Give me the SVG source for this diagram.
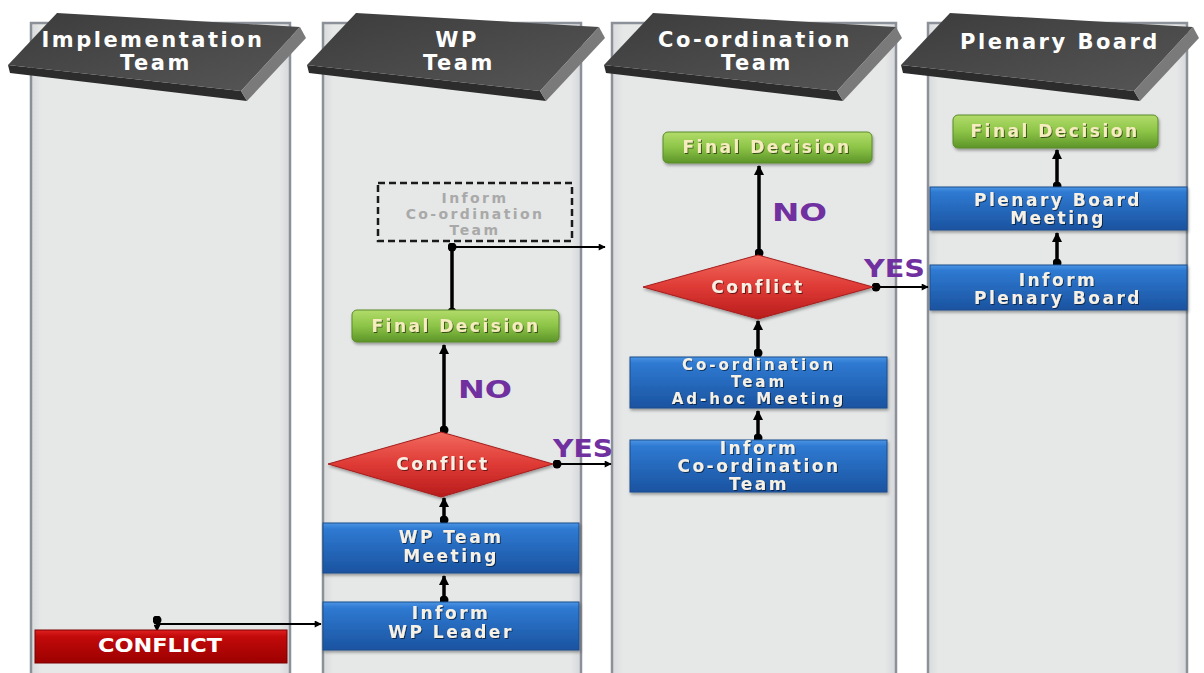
<svg xmlns="http://www.w3.org/2000/svg" width="1204" height="673" viewBox="0 0 1204 673">
<defs>
<linearGradient id="blueG" x1="0" y1="0" x2="0" y2="1">
<stop offset="0" stop-color="#4b95e4"/><stop offset="0.12" stop-color="#2f7ad2"/><stop offset="1" stop-color="#1a53a0"/>
</linearGradient>
<linearGradient id="greenG" x1="0" y1="0" x2="0" y2="1">
<stop offset="0" stop-color="#b2dc6a"/><stop offset="0.5" stop-color="#8cc447"/><stop offset="1" stop-color="#5d9529"/>
</linearGradient>
<linearGradient id="redG" x1="0" y1="0" x2="0" y2="1">
<stop offset="0" stop-color="#f26a5e"/><stop offset="0.5" stop-color="#de3a35"/><stop offset="1" stop-color="#b81c1c"/>
</linearGradient>
<linearGradient id="darkRedG" x1="0" y1="0" x2="0" y2="1">
<stop offset="0" stop-color="#e02020"/><stop offset="0.2" stop-color="#c20a0a"/><stop offset="1" stop-color="#9c0000"/>
</linearGradient>
<linearGradient id="hdrG" x1="0" y1="0" x2="1" y2="1">
<stop offset="0" stop-color="#3c3c3c"/><stop offset="1" stop-color="#565656"/>
</linearGradient>
<linearGradient id="laneG" x1="0" y1="0" x2="1" y2="0">
<stop offset="0" stop-color="#d9dadc"/><stop offset="0.04" stop-color="#e6e7e7"/><stop offset="0.96" stop-color="#e6e7e7"/><stop offset="1" stop-color="#d6d7da"/>
</linearGradient>
<filter id="sh" x="-10%" y="-20%" width="120%" height="150%">
<feDropShadow dx="1" dy="2" stdDeviation="1.5" flood-color="#000" flood-opacity="0.35"/>
</filter>
<filter id="tsh" x="-10%" y="-30%" width="120%" height="160%">
<feDropShadow dx="1" dy="1" stdDeviation="0.6" flood-color="#000" flood-opacity="0.55"/>
</filter>
<marker id="ah" viewBox="0 0 10 10" refX="9" refY="5" markerWidth="10" markerHeight="10" markerUnits="userSpaceOnUse" orient="auto">
<path d="M0,0 L10,5 L0,10 z" fill="#000"/>
</marker>
<marker id="ahs" viewBox="0 0 10 10" refX="9" refY="5" markerWidth="8" markerHeight="7" markerUnits="userSpaceOnUse" orient="auto">
<path d="M0,0 L10,5 L0,10 z" fill="#000"/>
</marker>
<marker id="dot" viewBox="0 0 10 10" refX="5" refY="5" markerWidth="9" markerHeight="9" markerUnits="userSpaceOnUse">
<circle cx="5" cy="5" r="5" fill="#000"/>
</marker>
</defs>
<style>
.lane{fill:url(#laneG);stroke:#8c9098;stroke-width:2.5}
.top{fill:url(#hdrG)}
.rside{fill:#7a7a7a}
.bside{fill:#2c2c2c}
.hdr{font-family:"DejaVu Sans",sans-serif;font-weight:bold;font-size:21px;fill:#ffffff;letter-spacing:2.5px;text-anchor:middle}
.blue{fill:url(#blueG);stroke:#1c4d8c;stroke-width:1;filter:url(#sh)}
.green{fill:url(#greenG);stroke:#5a8a2a;stroke-width:1;filter:url(#sh)}
.dia{fill:url(#redG);stroke:#a51c1c;stroke-width:1;filter:url(#sh)}
.t{font-family:"DejaVu Sans",sans-serif;font-weight:bold;font-size:17px;letter-spacing:2.5px;text-anchor:middle;fill:#f6f1e4;filter:url(#tsh)}
.ts{font-size:15px;letter-spacing:3px}
.tg{fill:#f6ecc0}
.dash{fill:none;stroke:#1a1a1a;stroke-width:2.5;stroke-dasharray:7 4}
.tgray{font-family:"DejaVu Sans",sans-serif;font-weight:bold;font-size:14px;letter-spacing:2.4px;text-anchor:middle;fill:#a9a9a9}
.lbl{font-family:"DejaVu Sans",sans-serif;font-weight:bold;font-size:24px;fill:#7030a0}
.thick{stroke:#000;stroke-width:3.5;fill:none}
.thin{stroke:#000;stroke-width:2;fill:none}
</style>
<rect width="1204" height="673" fill="#ffffff"/>
<g id="lanes">
<rect class="lane" x="31" y="23" width="259" height="660"/>
<rect class="lane" x="323" y="23" width="258" height="660"/>
<rect class="lane" x="612" y="23" width="284" height="660"/>
<rect class="lane" x="928" y="23" width="259" height="660"/>
</g>
<g id="header-implementation">
<polygon class="bside" points="8,65 241,91 247,101 10,73"/>
<polygon class="top" points="57,13 300,27 241,91 8,65"/>
<polygon class="rside" points="300,27 306,38 247,101 241,91"/>
<text class="hdr" x="153" y="47">Implementation</text>
<text class="hdr" x="156" y="70">Team</text>
</g>
<g id="header-wp">
<g transform="translate(299,0)">
<polygon class="bside" points="8,65 241,91 247,101 10,73"/>
<polygon class="top" points="57,13 300,27 241,91 8,65"/>
<polygon class="rside" points="300,27 306,38 247,101 241,91"/>
</g>
<text class="hdr" x="457" y="47">WP</text>
<text class="hdr" x="459" y="70">Team</text>
</g>
<g id="header-coordination">
<g transform="translate(596,0)">
<polygon class="bside" points="8,65 241,91 247,101 10,73"/>
<polygon class="top" points="57,13 300,27 241,91 8,65"/>
<polygon class="rside" points="300,27 306,38 247,101 241,91"/>
</g>
<text class="hdr" x="755" y="47">Co-ordination</text>
<text class="hdr" x="757" y="70">Team</text>
</g>
<g id="header-plenary">
<g transform="translate(893,0)">
<polygon class="bside" points="8,65 241,91 247,101 10,73"/>
<polygon class="top" points="57,13 300,27 241,91 8,65"/>
<polygon class="rside" points="300,27 306,38 247,101 241,91"/>
</g>
<text class="hdr" x="1060" y="49">Plenary Board</text>
</g>
<g id="connectors">
<line class="thin" x1="157" y1="620" x2="157" y2="631" marker-start="url(#dot)" marker-end="url(#ahs)"/>
<line class="thin" x1="157" y1="624" x2="321" y2="624" stroke-width="1.5" marker-end="url(#ahs)"/>
<line class="thick" x1="444" y1="600" x2="444" y2="576" marker-start="url(#dot)" marker-end="url(#ah)"/>
<line class="thick" x1="444" y1="520" x2="444" y2="498" marker-start="url(#dot)" marker-end="url(#ah)"/>
<line class="thick" x1="444" y1="430" x2="444" y2="345" marker-start="url(#dot)" marker-end="url(#ah)"/>
<line class="thin" x1="557" y1="464" x2="611" y2="464" marker-start="url(#dot)" marker-end="url(#ahs)"/>
<line class="thick" x1="452" y1="312" x2="452" y2="247" marker-start="url(#dot)" marker-end="url(#dot)"/>
<line class="thin" x1="452" y1="247" x2="605" y2="247" marker-end="url(#ahs)"/>
<line class="thick" x1="758" y1="438" x2="758" y2="411" marker-start="url(#dot)" marker-end="url(#ah)"/>
<line class="thick" x1="758" y1="353" x2="758" y2="321" marker-start="url(#dot)" marker-end="url(#ah)"/>
<line class="thick" x1="759" y1="253" x2="759" y2="166" marker-start="url(#dot)" marker-end="url(#ah)"/>
<line class="thin" x1="876" y1="287" x2="928" y2="287" marker-start="url(#dot)" marker-end="url(#ahs)"/>
<line class="thick" x1="1057" y1="263" x2="1057" y2="233" marker-start="url(#dot)" marker-end="url(#ah)"/>
<line class="thick" x1="1057" y1="186" x2="1057" y2="150" marker-start="url(#dot)" marker-end="url(#ah)"/>
</g>
<g id="labels">
<text class="lbl" x="458" y="398" textLength="54" lengthAdjust="spacingAndGlyphs">NO</text>
<text class="lbl" x="553" y="457" textLength="60" lengthAdjust="spacingAndGlyphs">YES</text>
<text class="lbl" x="772" y="221" textLength="55" lengthAdjust="spacingAndGlyphs">NO</text>
<text class="lbl" x="864" y="277" textLength="61" lengthAdjust="spacingAndGlyphs">YES</text>
</g>
<g id="node-conflict-start">
<rect x="35" y="630" width="252" height="33" fill="url(#darkRedG)" stroke="#7a0000" stroke-width="1"/>
<text x="160" y="652" font-family="DejaVu Sans, sans-serif" font-weight="bold" font-size="19" fill="#ffffff" text-anchor="middle" textLength="124" lengthAdjust="spacingAndGlyphs">CONFLICT</text>
</g>
<g id="node-inform-wp-leader">
<rect class="blue" x="323" y="602" width="256" height="48"/>
<text class="t" x="451" y="619">Inform</text>
<text class="t" x="451" y="638">WP Leader</text>
</g>
<g id="node-wp-team-meeting">
<rect class="blue" x="323" y="523" width="256" height="50"/>
<text class="t" x="451" y="543">WP Team</text>
<text class="t" x="451" y="562">Meeting</text>
</g>
<g id="node-conflict-wp">
<polygon class="dia" points="328,464 441,432 553,464 441,497"/>
<text class="t" x="443" y="470">Conflict</text>
</g>
<g id="node-final-decision-wp">
<rect class="green" x="352" y="310" width="207" height="32" rx="5"/>
<text class="t tg" x="456" y="332">Final Decision</text>
</g>
<g id="node-inform-coord-dashed">
<rect class="dash" x="378" y="183" width="194" height="58"/>
<text class="tgray" x="475" y="203">Inform</text>
<text class="tgray" x="475" y="219">Co-ordination</text>
<text class="tgray" x="475" y="235">Team</text>
</g>
<g id="node-inform-coord">
<rect class="blue" x="630" y="440" width="257" height="52"/>
<text class="t" x="759" y="454">Inform</text>
<text class="t" x="759" y="472">Co-ordination</text>
<text class="t" x="759" y="490">Team</text>
</g>
<g id="node-adhoc">
<rect class="blue" x="630" y="357" width="257" height="51"/>
<text class="t ts" x="759" y="370">Co-ordination</text>
<text class="t ts" x="759" y="387">Team</text>
<text class="t ts" x="759" y="404">Ad-hoc Meeting</text>
</g>
<g id="node-conflict-coord">
<polygon class="dia" points="643,287 758,255 873,287 758,319"/>
<text class="t" x="758" y="293">Conflict</text>
</g>
<g id="node-final-decision-coord">
<rect class="green" x="663" y="132" width="209" height="31" rx="5"/>
<text class="t tg" x="767" y="153">Final Decision</text>
</g>
<g id="node-inform-plenary">
<rect class="blue" x="930" y="265" width="257" height="45"/>
<text class="t" x="1058" y="286">Inform</text>
<text class="t" x="1058" y="304">Plenary Board</text>
</g>
<g id="node-plenary-meeting">
<rect class="blue" x="930" y="187" width="257" height="43"/>
<text class="t" x="1058" y="206">Plenary Board</text>
<text class="t" x="1058" y="224">Meeting</text>
</g>
<g id="node-final-decision-plenary">
<rect class="green" x="953" y="115" width="205" height="33" rx="5"/>
<text class="t tg" x="1055" y="137">Final Decision</text>
</g>
</svg>
